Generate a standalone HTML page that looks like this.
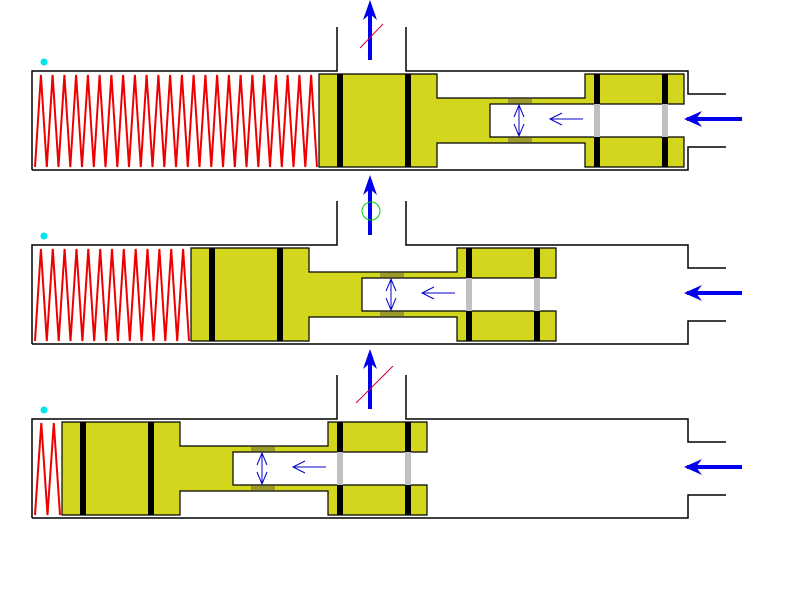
<!DOCTYPE html>
<html><head><meta charset="utf-8"><style>body{margin:0;background:#fff}svg{display:block}</style></head>
<body>
<svg id="s" width="800" height="600" xmlns="http://www.w3.org/2000/svg">
<defs>
<g id="arrowR"><line x1="0" y1="0" x2="-55" y2="0" stroke="#0000ee" stroke-width="4"/><path d="M-58 0 L-40 -8 L-46 0 L-40 8 Z" fill="#0000ee"/></g>
<g id="arrowU"><line x1="0" y1="0" x2="0" y2="-55" stroke="#0000ee" stroke-width="4"/><path d="M0 -60 L-7 -40 L0 -46 L7 -40 Z" fill="#0000ee"/></g>
</defs>
</svg>
<script>
var s=document.getElementById('s'),NS='http://www.w3.org/2000/svg';
function el(t,a){var e=document.createElementNS(NS,t);for(var k in a)e.setAttribute(k,a[k]);s.appendChild(e);return e}
function panel(oy,dx,springEnd,n){
 var T=71+oy,B=170+oy;
 // housing
 el('polyline',{points:`32,${T} 337,${T} 337,${27+oy} M`,fill:'none'});
 el('path',{d:`M32 ${B} L32 ${T} L337 ${T} L337 ${27+oy} M406 ${27+oy} L406 ${T} L688 ${T} L688 ${T+23} L726 ${T+23} M726 ${B-23} L688 ${B-23} L688 ${B} L32 ${B}`,fill:'none',stroke:'#000','stroke-width':1.5});
 // spring
 var pts=[],x0=35,w=springEnd-35;
 for(var i=0;i<=n*2;i++){var x=x0+w*i/(n*2);pts.push(x.toFixed(1)+','+(i%2?T+4:B-3));}
 el('polyline',{points:pts.join(' '),fill:'none',stroke:'#ee0000','stroke-width':2});
 var X=function(v){return v-dx};
 var Y=function(v){return v+oy};
 var y1=Y(74),y2=Y(167);
 // piston body
 var d=`M${X(319)} ${y1} H${X(437)} V${Y(98)} H${X(585)} V${y1} H${X(684)} V${Y(104)} H${X(490)} V${Y(137)} H${X(684)} V${y2} H${X(585)} V${Y(143)} H${X(437)} V${y2} H${X(319)} Z`;
 el('path',{d:d,fill:'#d2d71e',stroke:'#000','stroke-width':1.2});
 // black bands big land
 el('rect',{x:X(337),y:y1,width:6,height:93,fill:'#000'});
 el('rect',{x:X(405),y:y1,width:6,height:93,fill:'#000'});
 // right bands
 [594,662].forEach(function(b){
  el('rect',{x:X(b),y:y1,width:6,height:30,fill:'#000'});
  el('rect',{x:X(b),y:Y(104),width:6,height:33,fill:'#c0c0c0'});
  el('rect',{x:X(b),y:Y(137),width:6,height:30,fill:'#000'});
 });
 // olive rings
 el('rect',{x:X(508),y:Y(98.5),width:24,height:5,fill:'#9a9a2a'});
 el('rect',{x:X(508),y:Y(137.5),width:24,height:5,fill:'#9a9a2a'});
 // double arrow
 var cx=X(519);
 el('path',{d:`M${cx} ${Y(105)} V${Y(136)} M${cx-5} ${Y(117)} L${cx} ${Y(105)} L${cx+5} ${Y(117)} M${cx-5} ${Y(124)} L${cx} ${Y(136)} L${cx+5} ${Y(124)}`,fill:'none',stroke:'#0000cc','stroke-width':1});
 // thin arrow
 var ax=X(550);
 el('path',{d:`M${X(583)} ${Y(119)} H${ax} M${ax+12} ${Y(113)} L${ax} ${Y(119)} L${ax+12} ${Y(125)}`,fill:'none',stroke:'#0000cc','stroke-width':1});
 // big right arrow
 el('use',{href:'#arrowR',transform:`translate(742,${Y(119)})`});
 // cyan dot
 el('circle',{cx:44,cy:Y(62),r:3.5,fill:'#00e5ee'});
}
panel(0,0,317,24);
panel(174,128,189,13);
panel(348,257,60,2);
el('use',{href:'#arrowU',transform:'translate(370,60)'});
el('use',{href:'#arrowU',transform:'translate(370,235)'});
el('use',{href:'#arrowU',transform:'translate(370,409)'});
el('line',{x1:360,y1:48,x2:383,y2:24,stroke:'#cc0033','stroke-width':1});
el('line',{x1:356,y1:403,x2:393,y2:366,stroke:'#cc0033','stroke-width':1});
el('circle',{cx:371,cy:211,r:9,fill:'none',stroke:'#00cc00','stroke-width':1});
</script>
</body></html>
